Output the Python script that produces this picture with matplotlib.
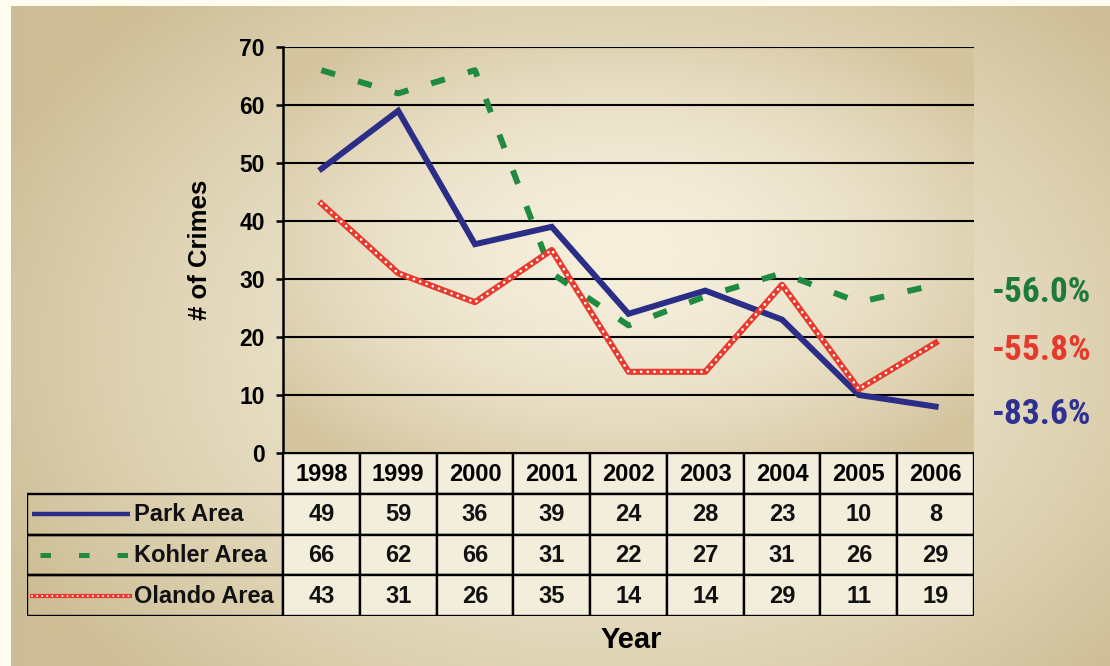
import numpy as np
import matplotlib
matplotlib.use('Agg')
import matplotlib.pyplot as plt
from matplotlib.colors import to_rgb
from matplotlib.patches import Rectangle

years = ['1998', '1999', '2000', '2001', '2002', '2003', '2004', '2005', '2006']
park = [49, 59, 36, 39, 24, 28, 23, 10, 8]
kohler = [66, 62, 66, 31, 22, 27, 31, 26, 29]
olando = [43, 31, 26, 35, 14, 14, 29, 11, 19]
area_names = ['Park Area', 'Kohler Area', 'Olando Area']
changes = ['-83.6%', '-56.0%', '-55.8%']

BLUE = '#2b2d86'
GREEN = '#1f8a40'
RED = '#e8392c'
PCT_COLORS = ['#2e3192', '#1e7a3c', '#e5392b']

W, H = 1110, 666
plt.rcParams['font.family'] = ['Liberation Sans', 'DejaVu Sans']
plt.rcParams['font.weight'] = 'bold'


def radial(h, w, cx, cy, rx, ry, inner, outer, power=1.6):
    yy, xx = np.mgrid[0:h, 0:w]
    d = np.sqrt(((xx - cx) / rx) ** 2 + ((yy - cy) / ry) ** 2)
    t = np.clip(d, 0, 1) ** power
    a, b = np.array(to_rgb(inner)), np.array(to_rgb(outer))
    return a * (1 - t[..., None]) + b * t[..., None]


fig = plt.figure(figsize=(W / 100, H / 100), dpi=100, facecolor='#fffdf0')

# beige panel behind everything
bg = fig.add_axes([11 / W, 0, 1 - 11 / W, 1 - 6 / H], zorder=-10)
bg.imshow(radial(330, 550, 300, 170, 340, 240, '#f3edd8', '#cdbd95'), aspect='auto')
bg.axis('off')

# line chart
ax = fig.add_axes([283 / W, 1 - 453 / H, (974 - 283) / W, (453 - 47) / H])
ax.set_facecolor('none')
ax.imshow(radial(200, 345, 170, 100, 220, 130, '#f5efdc', '#d4c49e', 1.8),
          extent=(-0.5, 8.5, 0, 70), aspect='auto', zorder=0)
x = np.arange(len(years))
ax.plot(x, park, color=BLUE, lw=4.3, solid_joinstyle='miter', zorder=4)
ax.plot(x, kohler, color=GREEN, lw=4.3, linestyle=(0, (2.4, 4.0)),
        dash_capstyle='butt', zorder=3)
ax.plot(x, olando, color=RED, lw=4.4, zorder=5)
ax.plot(x, olando, color='white', lw=2.0, linestyle=(0, (0.01, 2.4)),
        dash_capstyle='round', zorder=6)

ax.set_xlim(-0.5, 8.5)
ax.set_ylim(0, 70)
ax.set_yticks(range(0, 71, 10))
ax.set_xticks([])
ax.yaxis.grid(True, color='black', lw=1.5)
for s in ['top', 'right', 'bottom']:
    ax.spines[s].set_visible(False)
ax.spines['left'].set_linewidth(1.8)
ax.tick_params(axis='y', direction='out', length=5, width=1.8, pad=8, labelsize=16.5)
for lab in ax.get_yticklabels():
    lab.set_fontweight('bold')
ax.set_ylabel('# of Crimes', fontsize=18.5, fontweight='bold', labelpad=20)

# percent change beside the last points
for vals, txt, col in zip([park, kohler, olando], changes, PCT_COLORS):
    ax.text(1.098, vals[-1] - 1.3, txt, transform=ax.get_yaxis_transform(),
            ha='center', va='center', fontsize=25.5, fontweight='heavy', color=col,
            family=['Roboto Condensed', 'Liberation Sans Narrow', 'DejaVu Sans'],
            fontstretch='condensed')

# data table under the chart
col_w = (974 - 283) / 9
x0 = -0.5 - (283 - 27) / col_w
tab = fig.add_axes([27 / W, 1 - 616 / H, (974 - 27) / W, (616 - 453) / H])
tab.set_xlim(x0, 8.5)
tab.set_ylim(4, 0)
tab.axis('off')
cell_fc = '#f3eddb'
for j, yr in enumerate(years):
    tab.add_patch(Rectangle((j - 0.5, 0), 1, 1, fc=cell_fc, ec='black', lw=1.7))
    tab.text(j, 0.52, yr, ha='center', va='center', fontsize=17, fontweight='bold')
rows = [park, kohler, olando]
for r, (name, vals) in enumerate(zip(area_names, rows), start=1):
    tab.add_patch(Rectangle((x0, r), -0.5 - x0, 1, fc='none', ec='black', lw=1.7))
    for j, v in enumerate(vals):
        tab.add_patch(Rectangle((j - 0.5, r), 1, 1, fc=cell_fc, ec='black', lw=1.7))
        tab.text(j, r + 0.52, str(v), ha='center', va='center',
                 fontsize=17, fontweight='bold', color='#111111')
    tab.text(x0 + 1.4, r + 0.52, name, ha='left', va='center',
             fontsize=17, fontweight='bold', color='#111111')

# legend keys inside the row label cells
kx = [x0 + 0.07, x0 + 1.34]
tab.plot(kx, [1.5, 1.5], color=BLUE, lw=3.2, solid_capstyle='butt')
tab.plot([x0 + 0.17, x0 + 1.34], [2.5, 2.5], color=GREEN, lw=3.6,
         linestyle=(0, (2.1, 5.6)), dash_capstyle='butt')
tab.plot(kx, [3.5, 3.5], color=RED, lw=3.0)
tab.plot(kx, [3.5, 3.5], color='white', lw=1.4, linestyle=(0, (0.01, 2.6)),
         dash_capstyle='round')

fig.text(631 / W, 1 - 640 / H, 'Year', ha='center', va='center',
         fontsize=21, fontweight='bold')

fig.savefig('out.png', dpi=100, facecolor=fig.get_facecolor())
